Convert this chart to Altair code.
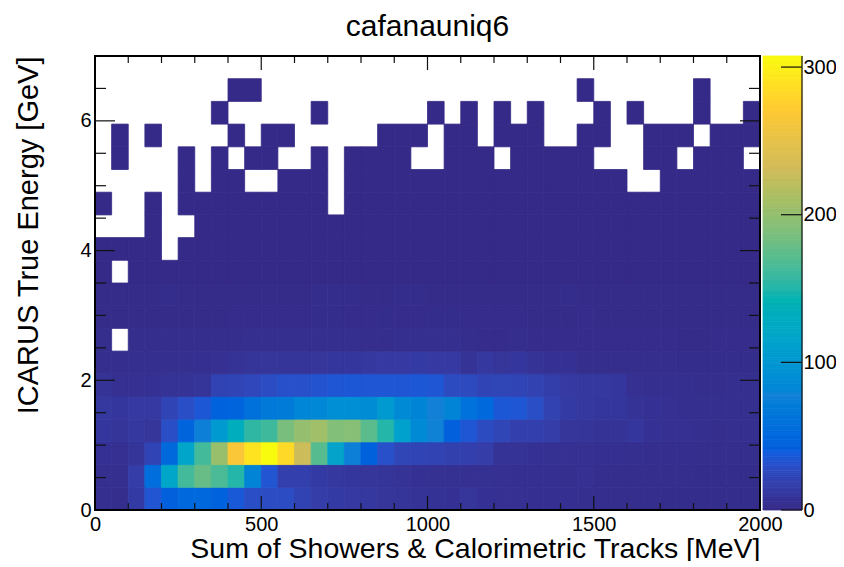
import altair as alt
import pandas as pd

TITLE = "cafanauniq6"
X_TITLE = "Sum of Showers & Calorimetric Tracks [MeV]"
Y_TITLE = "ICARUS True Energy [GeV]"
FONT = "Liberation Sans"

X_BIN = 50
Y_BIN = 0.35
Z_MAX = 3075

X_LABELS = [0, 500, 1000, 1500, 2000]
Y_LABELS = [0, 2, 4, 6]
Z_LABELS = [0, 1000, 2000, 3000]
X_MINOR = [100, 200, 300, 400, 600, 700, 800, 900, 1100, 1200, 1300, 1400, 1600, 1700, 1800, 1900]
Y_MINOR = [0.5, 1, 1.5, 2.5, 3, 3.5, 4.5, 5, 5.5, 6.5]

# ROOT kBird palette
PALETTE = ["#352a87", "#0f5cdd", "#1481d6", "#06a4ca", "#2eb7a4",
           "#87bf77", "#d1bb59", "#fec832", "#f9fb0e"]
PALETTE_AT = [0, 384, 769, 1153, 1538, 1922, 2306, 2691, 3075]

# bottom rows: counts per 50 MeV column
ROW_0 = [40, 30, 130, 330, 420, 500, 500, 440, 360, 280,
         270, 270, 200, 150, 130, 120, 110, 90, 80, 70,
         65, 60, 90, 60, 50, 50, 45, 45, 45, 40,
         35, 30, 30, 30, 25, 25, 25, 25, 25, 25]
ROW_1 = [40, 40, 150, 560, 1180, 1620, 1780, 1650, 1500, 800,
         330, 170, 170, 130, 110, 100, 90, 80, 70, 60,
         55, 55, 50, 55, 50, 45, 45, 45, 40, 50,
         35, 30, 30, 30, 30, 30, 25, 25, 25, 25]
ROW_2 = [60, 50, 80, 210, 520, 1170, 1620, 2020, 2650, 2900,
         3075, 2820, 2280, 1700, 1150, 750, 430, 300, 220, 210,
         200, 180, 170, 150, 70, 70, 60, 55, 50, 50,
         45, 45, 40, 35, 35, 35, 30, 30, 30, 30]
ROW_3 = [100, 80, 110, 90, 280, 460, 750, 1020, 1320, 1540,
         1600, 1860, 2000, 2060, 1900, 1930, 1720, 1500, 1120, 850,
         780, 420, 340, 260, 220, 170, 170, 150, 90, 80,
         70, 70, 100, 60, 50, 50, 40, 30, 40, 40]
ROW_4 = [110, 100, 120, 120, 210, 280, 350, 450, 470, 580,
         680, 700, 820, 830, 900, 900, 870, 1020, 850, 810,
         760, 800, 600, 520, 350, 340, 280, 190, 130, 110,
         100, 100, 70, 60, 50, 40, 40, 40, 40, 40]
ROW_5 = [70, 50, 50, 60, 70, 70, 80, 200, 210, 230,
         270, 300, 300, 320, 340, 350, 340, 340, 340, 350,
         340, 260, 250, 210, 220, 210, 190, 160, 120, 110,
         110, 100, 50, 40, 40, 40, 30, 30, 40, 40]
ROW_6 = [35, 35, 40, 40, 40, 40, 45, 50, 70, 80,
         90, 80, 80, 90, 100, 100, 110, 120, 120, 130,
         120, 120, 70, 110, 90, 100, 70, 60, 60, 30,
         30, 30, 30, 30, 30, 25, 25, 25, 25, 25]
ROW_7 = [30, 0, 30, 30, 30, 30, 30, 30, 30, 40,
         40, 40, 40, 40, 40, 40, 30, 30, 40, 40,
         40, 40, 30, 20, 20, 30, 20, 20, 20, 20,
         20, 20, 20, 20, 20, 10, 10, 20, 20, 20]
ROW_8 = [15, 15, 15, 15, 15, 15, 15, 15, 20, 20,
         20, 20, 20, 25, 25, 20, 20, 25, 20, 20,
         25, 25, 20, 20, 20, 20, 15, 15, 15, 20,
         15, 15, 15, 15, 15, 10, 10, 15, 10, 10]
ROW_9 = [5, 5, 5, 5, 25, 5, 5, 5, 5, 5,
         5, 5, 5, 25, 25, 25, 10, 10, 25, 25,
         10, 10, 10, 10, 10, 10, 10, 10, 25, 10,
         10, 10, 10, 10, 10, 5, 5, 5, 5, 5]

# upper rows: columns that hold any entries, all of them nearly empty
ROW_10_COLS = [0] + list(range(2, 40))
ROW_11_COLS = [0, 1, 2, 3] + list(range(5, 40))
ROW_12_COLS = [3] + list(range(6, 40))
ROW_13_COLS = [0, 3] + list(range(5, 14)) + list(range(15, 40))
ROW_14_COLS = [5, 7, 8, 11, 12, 13] + list(range(15, 32)) + list(range(34, 40))
ROW_15_COLS = [1, 5, 7, 9, 10, 13, 15, 16, 17, 18, 21, 22, 23, 25, 26, 27, 28, 29, 33, 34, 36, 37, 38]
ROW_16_COLS = [1, 3, 8, 10, 11, 17, 18, 19, 21, 22, 24, 25, 26, 29, 30, 33, 34, 35, 37, 38, 39]
ROW_17_COLS = [7, 13, 20, 22, 24, 26, 30, 32, 36, 39]
ROW_18_COLS = [8, 9, 29, 36]
UPPER_COUNT = 2

# colour bar steps
BAR_STEP = 15

ROWS = [ROW_0, ROW_1, ROW_2, ROW_3, ROW_4, ROW_5, ROW_6, ROW_7, ROW_8, ROW_9]
UPPER = [ROW_10_COLS, ROW_11_COLS, ROW_12_COLS, ROW_13_COLS, ROW_14_COLS,
         ROW_15_COLS, ROW_16_COLS, ROW_17_COLS, ROW_18_COLS]

cells = []
for r, row in enumerate(ROWS):
    for c, n in enumerate(row):
        if n > 0:
            cells.append(dict(col=c, row=r, n=n))
for k, cols in enumerate(UPPER):
    for c in cols:
        cells.append(dict(col=c, row=10 + k, n=UPPER_COUNT))
df = pd.DataFrame(cells)
df["x0"] = df.col * X_BIN
df["x1"] = (df.col + 1) * X_BIN
df["y0"] = df.row * Y_BIN
df["y1"] = (df.row + 1) * Y_BIN

W, H = 665, 454
x_scale = alt.Scale(domain=[0, 2000], nice=False, zero=False)
y_scale = alt.Scale(domain=[0, 7], nice=False, zero=False)
z_scale = alt.Scale(domain=PALETTE_AT, range=PALETTE, clamp=True)

x_axis = alt.Axis(
    values=X_LABELS, ticks=False, domain=False, grid=False, format="d", labelFlush=False,
    labelFont=FONT, labelFontSize=20, labelColor="#000", labelPadding=4,
    title=X_TITLE, titleFont=FONT, titleFontSize=28.5, titleFontWeight="normal",
    titleColor="#000", titleAnchor="end", titleAlign="right", titleX=W, titleY=47,
    titleBaseline="alphabetic")

heat = alt.Chart(df).mark_rect(strokeWidth=0.8).encode(
    x=alt.X("x0:Q", scale=x_scale, axis=x_axis),
    x2="x1:Q",
    y=alt.Y("y0:Q", scale=y_scale, axis=alt.Axis(
        values=Y_LABELS, ticks=False, domain=False, grid=False, format="d", labelFlush=False,
        labelFont=FONT, labelFontSize=20, labelColor="#000", labelPadding=4,
        title=Y_TITLE, titleFont=FONT, titleFontSize=29, titleFontWeight="normal",
        titleColor="#000", titleAnchor="end", titleAlign="right", titleX=-58, titleY=0,
        titleBaseline="alphabetic")),
    y2="y1:Q",
    color=alt.Color("n:Q", scale=z_scale, legend=None),
    stroke=alt.Stroke("n:Q", scale=z_scale, legend=None),
)

def x_ticks(vals, length):
    d = pd.DataFrame({"v": vals})
    base = alt.Chart(d).mark_rule(color="#111", strokeWidth=1.2)
    xx = alt.X("v:Q", scale=x_scale, axis=x_axis)
    return [
        base.encode(x=xx, y=alt.value(H), y2=alt.value(H - length)),
        base.encode(x=xx, y=alt.value(0), y2=alt.value(length)),
    ]

def y_ticks(vals, length):
    d = pd.DataFrame({"v": vals})
    base = alt.Chart(d).mark_rule(color="#111", strokeWidth=1.2)
    yy = alt.Y("v:Q", scale=y_scale, axis=None)
    return [
        base.encode(y=yy, x=alt.value(0), x2=alt.value(length)),
        base.encode(y=yy, x=alt.value(W), x2=alt.value(W - length)),
    ]

frame_df = pd.DataFrame({"a": [0]})
frame = alt.Chart(frame_df).mark_rect(filled=False, stroke="#000", strokeWidth=2).encode(
    x=alt.value(0), x2=alt.value(W), y=alt.value(0), y2=alt.value(H))

z_y = alt.Scale(domain=[0, Z_MAX], nice=False, zero=False)

bar_df = pd.DataFrame({"lo": list(range(0, Z_MAX, BAR_STEP))})
bar_df["hi"] = bar_df.lo + BAR_STEP
bar = alt.Chart(bar_df).mark_rect(strokeWidth=0.8).encode(
    y=alt.Y("lo:Q", scale=z_y, axis=None),
    y2="hi:Q",
    x=alt.value(668), x2=alt.value(707),
    color=alt.Color("lo:Q", scale=z_scale, legend=None),
    stroke=alt.Stroke("lo:Q", scale=z_scale, legend=None),
)

z_df = pd.DataFrame({"z": Z_LABELS})
z_ticks = alt.Chart(z_df).mark_rule(color="#111", strokeWidth=1.2).encode(
    y=alt.Y("z:Q", scale=z_y, axis=alt.Axis(
        orient="right", values=Z_LABELS, ticks=False, domain=False, grid=False, format="d",
        labelFlush=False, offset=41, title=None, labelFont=FONT, labelFontSize=20,
        labelColor="#000", labelPadding=2)),
    x=alt.value(686), x2=alt.value(707))
z_edge = alt.Chart(frame_df).mark_rule(color="#111", strokeWidth=1.2).encode(
    x=alt.value(707), y=alt.value(0), y2=alt.value(H))

layers = [heat] + x_ticks(X_LABELS, 14) + x_ticks(X_MINOR, 7) + y_ticks(Y_LABELS, 20) + y_ticks(Y_MINOR, 11) + [frame, bar, z_ticks, z_edge]

chart = alt.layer(*layers).resolve_scale(y="independent").properties(
    width=W, height=H,
    title=alt.TitleParams(TITLE, font=FONT, fontSize=30, fontWeight="normal", color="#000",
                          anchor="middle", offset=13),
    autosize=alt.AutoSizeParams(type="none"),
    padding={"left": 87, "top": 48, "right": 76, "bottom": 51},
).configure_view(stroke=None)

chart.save("out.html", embed_options={"renderer": "svg", "actions": False})
